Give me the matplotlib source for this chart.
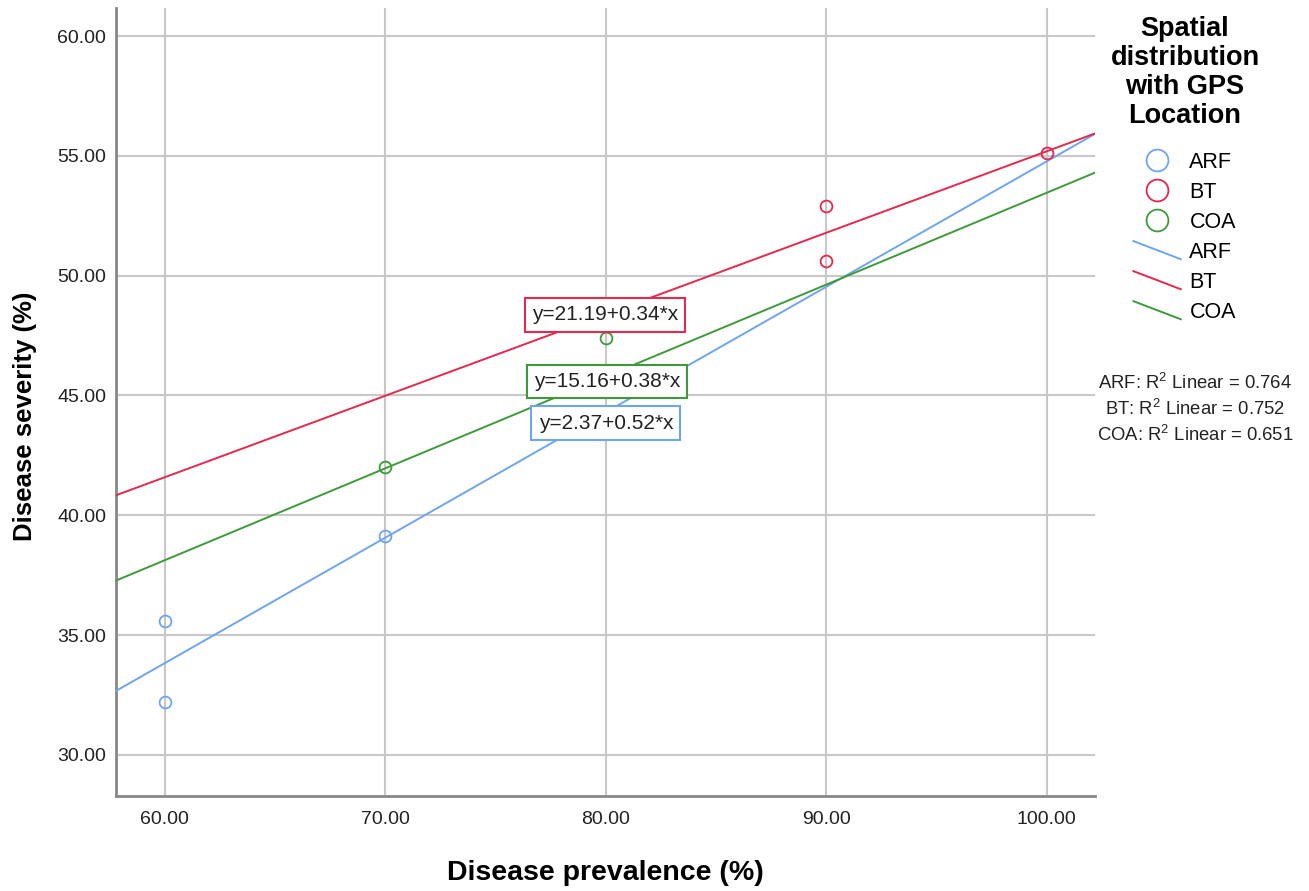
import matplotlib
matplotlib.use("Agg")
import matplotlib.pyplot as plt
import numpy as np
from matplotlib.legend_handler import HandlerBase
from matplotlib.lines import Line2D

plt.rcParams['font.family'] = ['Liberation Sans', 'DejaVu Sans']
plt.rcParams['mathtext.fontset'] = 'custom'
plt.rcParams['mathtext.rm'] = 'Liberation Sans'

# groups / colours
groups = ['ARF', 'BT', 'COA']
colors = ['#6ea5ee', '#e3294d', '#3d9a3a']

arf_x = [60, 60, 70]
arf_y = [35.58, 32.21, 39.12]
bt_x = [90, 90, 100]
bt_y = [52.91, 50.63, 55.13]
coa_x = [70, 80]
coa_y = [42.0, 47.42]

# fitted lines (as drawn) and their labels
intercepts = [2.43, 21.19, 15.13]
slopes = [0.5234, 0.34, 0.3833]
eq_labels = ['y=2.37+0.52*x', 'y=21.19+0.34*x', 'y=15.16+0.38*x']
eq_pos = [(80.0, 43.85), (79.96, 48.36), (80.05, 45.57)]
r2_values = [0.764, 0.752, 0.651]

xlim = (57.78, 102.19)
ylim = (28.30, 61.17)
xticks = [60, 70, 80, 90, 100]
yticks = [30, 35, 40, 45, 50, 55, 60]


class DiagonalHandler(HandlerBase):
    # SPSS style legend line: drawn from upper left to lower right
    def create_artists(self, legend, orig_handle, xdescent, ydescent,
                       width, height, fontsize, trans):
        ln = Line2D([-xdescent, -xdescent + width],
                    [-ydescent + height * 1.1, -ydescent - height * 0.1],
                    color=orig_handle.get_color(), lw=orig_handle.get_linewidth())
        ln.set_transform(trans)
        return [ln]


fig = plt.figure(figsize=(13.09, 8.91), dpi=100)
ax = fig.add_axes([0.0886, 0.107, 0.7479, 0.884])

xs = [arf_x, bt_x, coa_x]
ys = [arf_y, bt_y, coa_y]
xx = np.array(xlim)

pt_handles = []
ln_handles = []
for i, g in enumerate(groups):
    ln, = ax.plot(xx, intercepts[i] + slopes[i] * xx, color=colors[i], lw=1.4, zorder=3)
    ln_handles.append(ln)
for i, g in enumerate(groups):
    pts, = ax.plot(xs[i], ys[i], 'o', mfc='none', mec=colors[i], mew=1.3, ms=8.5,
                   ls='none', zorder=4)
    pt_handles.append(pts)

for i in [1, 2, 0]:
    ax.text(eq_pos[i][0], eq_pos[i][1], eq_labels[i], fontsize=15, color='#222222',
            ha='center', va='center', zorder=6,
            bbox=dict(boxstyle='square,pad=0.34', fc='white', ec=colors[i], lw=1.5))

ax.set_xlim(xlim)
ax.set_ylim(ylim)
ax.set_xticks(xticks)
ax.set_yticks(yticks)
ax.set_xticklabels(['%.2f' % v for v in xticks])
ax.set_yticklabels(['%.2f' % v for v in yticks])
ax.tick_params(length=0, labelsize=14, labelcolor='#222222')
ax.tick_params(axis='x', pad=11)
ax.tick_params(axis='y', pad=7)
ax.grid(True, color='#c8c8c8', lw=1.5)
ax.set_axisbelow(True)
for s in ['top', 'right']:
    ax.spines[s].set_visible(False)
for s in ['left', 'bottom']:
    ax.spines[s].set_color('#888888')
    ax.spines[s].set_linewidth(2)

ax.set_xlabel('Disease prevalence (%)', fontsize=20.5, fontweight='bold', labelpad=23)
ax.set_ylabel('Disease severity (%)', fontsize=18.5, fontweight='bold')
ax.yaxis.set_label_coords(-0.081, 0.481)

# legend title drawn on its own, legend below it
fig.text(0.9053, 0.982, 'Spatial\ndistribution\nwith GPS\nLocation', fontsize=19.5,
         fontweight='bold', ha='center', va='top', linespacing=1.15)

handler_map = {h: DiagonalHandler() for h in ln_handles}
leg = fig.legend(pt_handles + ln_handles, groups + groups, handler_map=handler_map,
                 loc='upper center', bbox_to_anchor=(0.905, 0.842), frameon=False,
                 fontsize=15.5, markerscale=1.85, handlelength=2.2, handletextpad=0.4,
                 labelspacing=0.42, borderpad=0.0)

r2_text = '\n'.join('%s: R$^2$ Linear = %.3f' % (g, r) for g, r in zip(groups, r2_values))
fig.text(0.913, 0.541, r2_text, fontsize=13.3, ha='center', va='center',
         linespacing=1.35, color='#222222')

fig.savefig('out.png', dpi=100)
